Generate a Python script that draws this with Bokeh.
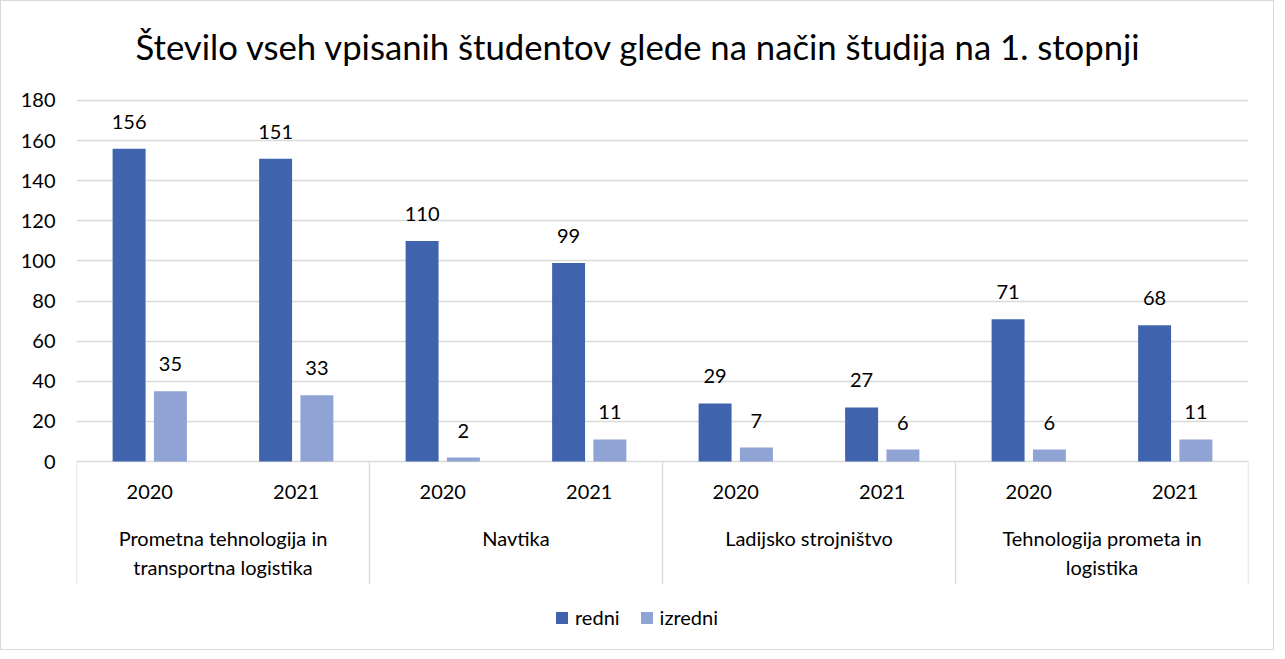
import textwrap
from bokeh.plotting import figure
from bokeh.models import (FactorRange, ColumnDataSource, FixedTicker, Range1d,
                          Legend, LegendItem)
from bokeh.transform import dodge
from bokeh.core.properties import value
from bokeh.embed import file_html
from bokeh.resources import INLINE

# ---------------- data ----------------
title_text = "Število vseh vpisanih študentov glede na način študija na 1. stopnji"
programs = ["Prometna tehnologija in transportna logistika", "Navtika",
            "Ladijsko strojništvo", "Tehnologija prometa in logistika"]
years = ["2020", "2021"]
series_names = ["redni", "izredni"]
redni = [156, 151, 110, 99, 29, 27, 71, 68]
izredni = [35, 33, 2, 11, 7, 6, 6, 11]
y_ticks = [0, 20, 40, 60, 80, 100, 120, 140, 160, 180]

# ---------------- style ----------------
FONT = "Lato"
DARK = "#3F64AD"
LIGHT = "#8FA3D4"
GRID = "#D9D9D9"
FS = "20px"

factors = [(p, y) for p in programs for y in years]

x_range = FactorRange(*factors, factor_padding=0, group_padding=0,
                      subgroup_padding=0, range_padding=0)

p = figure(width=1274, height=650, x_range=x_range, y_range=Range1d(-90.7, 185.98),
           output_backend="svg", toolbar_location=None, x_axis_location=None,
           min_border_left=75, min_border_right=27, min_border_top=87,
           min_border_bottom=8)
p.styles = {"border": "1px solid #D9D9D9"}

p.title.text = title_text
p.title.text_font = FONT
p.title.text_font_size = "34.7px"
p.title.text_font_style = "normal"
p.title.text_color = "black"
p.title.align = "left"
p.title.offset = 59
p.title.standoff = 44
p.title.vertical_align = "bottom"

src = ColumnDataSource(dict(
    x=factors,
    year=[y for _ in programs for y in years],
    redni=redni,
    izredni=izredni,
    redni_lbl=[str(v) for v in redni],
    izredni_lbl=[str(v) for v in izredni],
))

OFF = 0.141
W = 0.225
r1 = p.vbar(x=dodge("x", -OFF, range=p.x_range), top="redni", width=W,
            source=src, fill_color=DARK, line_color=None)
r2 = p.vbar(x=dodge("x", OFF, range=p.x_range), top="izredni", width=W,
            source=src, fill_color=LIGHT, line_color=None)

lbl_kw = dict(text_align="center", text_baseline="alphabetic", y_offset=-27,
              text_font=value(FONT), text_font_size=FS, text_color="black",
              source=src)
p.text(x=dodge("x", -OFF, range=p.x_range), y="redni", text="redni_lbl", **lbl_kw)
p.text(x=dodge("x", OFF, range=p.x_range), y="izredni", text="izredni_lbl", **lbl_kw)

# year labels
p.text(x="x", y=-15, text="year", text_align="center", text_baseline="middle",
       text_font=value(FONT), text_font_size=FS, text_color="black", source=src)

# group labels
gsrc = ColumnDataSource(dict(x=programs,
                             label=[textwrap.fill(g, 23) for g in programs]))
p.text(x="x", y=-32, text="label", text_align="center", text_baseline="top",
       text_line_height=1.2, text_font=value(FONT), text_font_size=FS,
       text_color="black", source=gsrc)

# separators
ssrc = ColumnDataSource(dict(x=[(g, years[0]) for g in programs]))
p.segment(x0=dodge("x", -0.5, range=p.x_range), y0=0,
          x1=dodge("x", -0.5, range=p.x_range), y1=-61,
          line_color=GRID, line_width=1.3, source=ssrc)
esrc = ColumnDataSource(dict(x=[(programs[-1], years[-1])]))
p.segment(x0=dodge("x", 0.5, range=p.x_range), y0=0,
          x1=dodge("x", 0.5, range=p.x_range), y1=-61,
          line_color=GRID, line_width=1.3, source=esrc)

# axes / grid
p.yaxis.ticker = FixedTicker(ticks=y_ticks)
p.yaxis.axis_line_color = None
p.yaxis.major_tick_line_color = None
p.yaxis.minor_tick_line_color = None
p.yaxis.major_label_standoff = 15
p.yaxis.major_label_text_font = FONT
p.yaxis.major_label_text_font_size = FS
p.yaxis.major_label_text_color = "black"
p.ygrid.grid_line_color = GRID
p.ygrid.grid_line_width = 1.3
p.xgrid.visible = False
p.outline_line_color = None

legend = Legend(items=[LegendItem(label=series_names[0], renderers=[r1]),
                       LegendItem(label=series_names[1], renderers=[r2])],
                location=(478, 14), orientation="horizontal",
                glyph_width=15, glyph_height=15, label_height=20,
                label_standoff=6, spacing=19, padding=0, margin=0,
                label_text_font=FONT, label_text_font_size=FS,
                label_text_color="black", border_line_color=None,
                background_fill_alpha=0)
p.add_layout(legend)

open("out.html", "w").write(file_html(p, INLINE))
